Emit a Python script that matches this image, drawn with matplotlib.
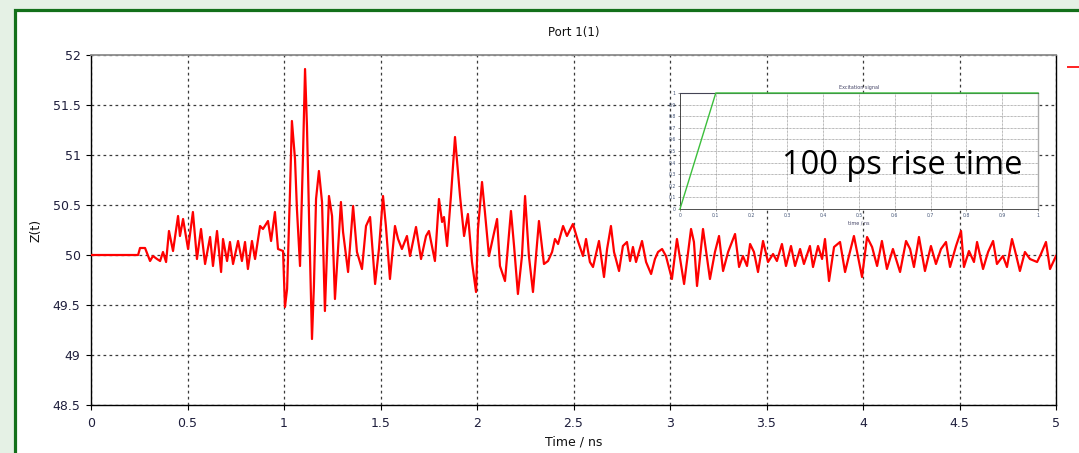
import matplotlib
matplotlib.use("Agg")
import matplotlib.pyplot as plt
from matplotlib.patches import Rectangle
from matplotlib.lines import Line2D
from matplotlib.ticker import FuncFormatter

# ---------------- data ----------------
time_ns = [0, 0.244, 0.254, 0.280, 0.306, 0.321, 0.342, 0.358, 0.373, 0.389, 0.404, 0.425,
           0.451, 0.461, 0.477, 0.503, 0.528, 0.549, 0.570, 0.591, 0.617, 0.632, 0.653,
           0.674, 0.684, 0.705, 0.720, 0.736, 0.762, 0.782, 0.798, 0.813, 0.834, 0.850,
           0.876, 0.891, 0.917, 0.933, 0.953, 0.969, 0.995, 1.005, 1.016, 1.031, 1.041,
           1.057, 1.067, 1.083, 1.098, 1.109, 1.119, 1.130, 1.145, 1.155, 1.166, 1.181,
           1.197, 1.212, 1.233, 1.249, 1.264, 1.295, 1.306, 1.332, 1.358, 1.378, 1.404,
           1.425, 1.446, 1.472, 1.492, 1.513, 1.528, 1.549, 1.575, 1.591, 1.611, 1.637,
           1.653, 1.684, 1.710, 1.736, 1.751, 1.782, 1.803, 1.819, 1.829, 1.845, 1.865,
           1.886, 1.912, 1.933, 1.953, 1.974, 1.995, 2.005, 2.026, 2.041, 2.062, 2.104,
           2.119, 2.145, 2.176, 2.192, 2.212, 2.233, 2.249, 2.269, 2.290, 2.321, 2.347,
           2.368, 2.389, 2.404, 2.420, 2.446, 2.466, 2.497, 2.523, 2.549, 2.565, 2.585,
           2.601, 2.632, 2.658, 2.674, 2.694, 2.710, 2.736, 2.756, 2.777, 2.793, 2.808,
           2.824, 2.855, 2.876, 2.902, 2.922, 2.938, 2.959, 2.979, 3.010, 3.036, 3.073,
           3.109, 3.124, 3.140, 3.171, 3.207, 3.233, 3.254, 3.275, 3.301, 3.337, 3.358,
           3.378, 3.399, 3.415, 3.435, 3.456, 3.482, 3.508, 3.534, 3.554, 3.580, 3.601,
           3.627, 3.648, 3.674, 3.694, 3.725, 3.741, 3.767, 3.788, 3.803, 3.824, 3.850,
           3.881, 3.907, 3.927, 3.953, 3.995, 4.021, 4.047, 4.073, 4.098, 4.124, 4.155,
           4.192, 4.223, 4.244, 4.264, 4.290, 4.321, 4.352, 4.378, 4.404, 4.430, 4.451,
           4.482, 4.508, 4.523, 4.549, 4.575, 4.591, 4.622, 4.648, 4.674, 4.694, 4.725,
           4.746, 4.772, 4.788, 4.813, 4.839, 4.865, 4.902, 4.922, 4.948, 4.969, 5.0]
z_ohm = [50.00, 50.00, 50.07, 50.07, 49.94, 49.99, 49.96, 49.94, 50.03, 49.93, 50.24, 50.04,
         50.39, 50.19, 50.36, 50.06, 50.43, 49.96, 50.26, 49.91, 50.18, 49.89, 50.24,
         49.83, 50.16, 49.94, 50.13, 49.91, 50.14, 49.94, 50.13, 49.86, 50.14, 49.96,
         50.29, 50.26, 50.34, 50.14, 50.43, 50.06, 50.04, 49.48, 49.66, 50.63, 51.34,
         50.96, 50.46, 49.89, 50.96, 51.86, 51.29, 50.36, 49.16, 49.69, 50.56, 50.84,
         50.53, 49.44, 50.59, 50.39, 49.56, 50.53, 50.23, 49.83, 50.49, 50.03, 49.86,
         50.29, 50.38, 49.71, 50.06, 50.59, 50.29, 49.76, 50.29, 50.16, 50.06, 50.19,
         49.99, 50.28, 49.96, 50.19, 50.24, 49.94, 50.56, 50.33, 50.38, 50.09, 50.59,
         51.18, 50.59, 50.19, 50.41, 49.93, 49.63, 50.26, 50.73, 50.43, 49.99, 50.36,
         49.89, 49.74, 50.44, 50.09, 49.61, 49.99, 50.59, 49.99, 49.63, 50.34, 49.91,
         49.94, 50.03, 50.16, 50.11, 50.29, 50.19, 50.31, 50.14, 49.99, 50.16, 49.93,
         49.88, 50.14, 49.78, 50.06, 50.29, 50.03, 49.84, 50.09, 50.13, 49.94, 50.08,
         49.93, 50.14, 49.93, 49.81, 49.96, 50.03, 50.06, 49.99, 49.76, 50.16, 49.71,
         50.26, 50.13, 49.69, 50.26, 49.76, 50.03, 50.19, 49.84, 50.03, 50.21, 49.88,
         49.99, 49.89, 50.11, 50.03, 49.83, 50.14, 49.93, 50.01, 49.94, 50.11, 49.89,
         50.09, 49.89, 50.06, 49.91, 50.09, 49.88, 50.09, 49.96, 50.16, 49.74, 50.08,
         50.13, 49.83, 49.99, 50.19, 49.78, 50.18, 50.08, 49.89, 50.14, 49.86, 50.06,
         49.83, 50.14, 50.06, 49.88, 50.18, 49.84, 50.09, 49.91, 50.06, 50.13, 49.88,
         50.09, 50.24, 49.88, 50.04, 49.93, 50.13, 49.86, 50.03, 50.14, 49.91, 49.99,
         49.88, 50.16, 50.04, 49.84, 50.03, 49.96, 49.93, 50.01, 50.13, 49.86, 49.99]

# Excitation signal (inset)
exc_time = [0.0, 0.1, 1.0]
exc_amp = [0.0, 1.0, 1.0]

x_ticks = [0, 0.5, 1, 1.5, 2, 2.5, 3, 3.5, 4, 4.5, 5]
y_ticks = [48.5, 49, 49.5, 50, 50.5, 51, 51.5, 52]
inset_ticks = [0, 0.1, 0.2, 0.3, 0.4, 0.5, 0.6, 0.7, 0.8, 0.9, 1]

title = "Port 1(1)"
xlabel = "Time / ns"
ylabel = "Z(t)"
inset_title = "Excitation signal"
inset_xlabel = "time / ns"
annotation = "100 ps rise time"

# ---------------- figure ----------------
W, H = 1079, 453
fig = plt.figure(figsize=(W / 100, H / 100), dpi=100)
fig.patch.set_facecolor("#e5f1e5")

# white panel with dark green frame
panel = Rectangle((15 / W, -0.2), 1.2, 1 - 10 / H + 0.2, transform=fig.transFigure,
                  facecolor="white", edgecolor="#13701a", linewidth=2.3, zorder=-5)
fig.patches.append(panel)

tick_color = "#1e1e3c"
grid_kw = dict(color="#3a3a3a", linestyle=(0, (2.2, 2.6)), linewidth=0.9)

ax = fig.add_axes([91 / W, (H - 405) / H, 965 / W, 350 / H])
ax.set_facecolor("white")
ax.plot(time_ns, z_ohm, color="#ff0000", linewidth=1.6, zorder=3)
ax.set_xlim(0, 5)
ax.set_ylim(48.5, 52)
ax.set_xticks(x_ticks)
ax.set_yticks(y_ticks)
fmt = FuncFormatter(lambda v, p: "%g" % v)
ax.xaxis.set_major_formatter(fmt)
ax.yaxis.set_major_formatter(fmt)
ax.tick_params(axis="both", direction="out", length=3.5, width=0.8, pad=4,
               labelsize=9, colors="black", labelcolor=tick_color)
ax.tick_params(axis="x", pad=5)
ax.grid(True, **grid_kw)
for s in ("left", "bottom", "right"):
    ax.spines[s].set_color("black")
    ax.spines[s].set_linewidth(1.0)
ax.spines["top"].set_color("#8c8c8c")
ax.spines["top"].set_linewidth(1.3)
ax.set_title(title, fontsize=8.5, color="#111111", pad=14)
ax.set_xlabel(xlabel, fontsize=9, color="#111111", labelpad=4)
ax.set_ylabel(ylabel, fontsize=9, color="#111111", labelpad=7)

# red legend stub at the right edge
fig.add_artist(Line2D([1068 / W, 1.0], [1 - 67 / H, 1 - 67 / H], transform=fig.transFigure,
                      color="#ff2020", linewidth=1.4))

# ---------------- inset ----------------
ins = fig.add_axes([680 / W, (H - 209) / H, 358 / W, 116 / H])
ins.set_facecolor("white")
ins.plot(exc_time, exc_amp, color="#3cbf3c", linewidth=1.0, zorder=3, clip_on=False)
ins.set_xlim(0, 1)
ins.set_ylim(0, 1)
ins.set_xticks(inset_ticks)
ins.set_yticks(inset_ticks)
ifmt = FuncFormatter(lambda v, p: "%g" % v)
ins.xaxis.set_major_formatter(ifmt)
ins.yaxis.set_major_formatter(ifmt)
ins.tick_params(axis="both", direction="out", length=1.5, width=0.5, pad=1.5,
                labelsize=3.3, colors="#666666", labelcolor="#445577")
ins.grid(True, color="#777777", linestyle=(0, (1, 1)), linewidth=0.5)
for s in ("left", "bottom"):
    ins.spines[s].set_color("#333333")
    ins.spines[s].set_linewidth(0.6)
ins.spines["top"].set_color("#444455")
ins.spines["top"].set_linewidth(0.8)
ins.spines["right"].set_color("#aaaaaa")
ins.spines["right"].set_linewidth(1.0)
ins.set_title(inset_title, fontsize=3.5, color="#444466", pad=3)
ins.set_xlabel(inset_xlabel, fontsize=3.5, color="#444466", labelpad=2)

fig.text(902 / W, 1 - 165 / H, annotation, fontsize=23.5, family="Open Sans",
         color="black", ha="center", va="center")

fig.savefig("out.png", dpi=100, facecolor=fig.get_facecolor())
